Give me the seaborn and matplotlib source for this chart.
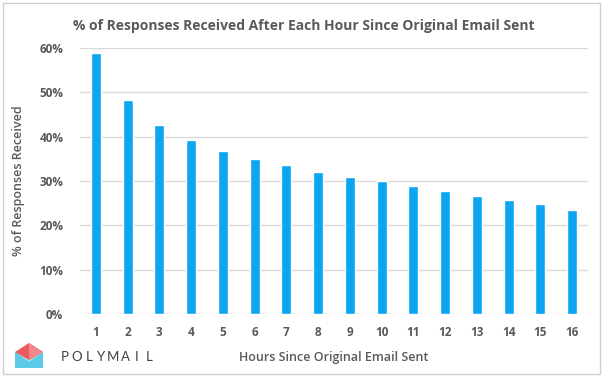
import matplotlib
matplotlib.use("Agg")
import matplotlib.pyplot as plt
from matplotlib.patches import Rectangle, Polygon
from matplotlib.ticker import PercentFormatter
import seaborn as sns
import pandas as pd

# data
hours = [str(h) for h in range(1, 17)]
responses = [58.9, 48.3, 42.7, 39.2, 36.8, 35.0, 33.5, 32.1,
             31.0, 30.0, 28.9, 27.8, 26.7, 25.7, 24.7, 23.5]
y_ticks = [0, 10, 20, 30, 40, 50, 60]

title = "% of Responses Received After Each Hour Since Original Email Sent"
x_label = "Hours Since Original Email Sent"
y_label = "% of Responses Received"

TEXT = "#595959"
BAR = "#0BA5F2"

sns.set_theme(style="white")
plt.rcParams["font.family"] = ["Open Sans", "DejaVu Sans"]

df = pd.DataFrame({"hour": hours, "pct": responses})

fig = plt.figure(figsize=(6.05, 3.8), dpi=100)
ax = fig.add_axes([80 / 605, 1 - 314 / 380, 508 / 605, 266 / 380])

sns.barplot(data=df, x="hour", y="pct", color=BAR, width=0.31,
            saturation=1, ax=ax, zorder=3)

ax.set_ylim(0, 60)
ax.set_xlim(-0.5, 15.5)
ax.set_yticks(y_ticks)
ax.yaxis.set_major_formatter(PercentFormatter(decimals=0))
ax.grid(axis="y", color="#d9d9d9", linewidth=1, zorder=0)
for s in ax.spines.values():
    s.set_visible(False)
ax.tick_params(axis="both", length=0, colors=TEXT, labelsize=8.5)
ax.tick_params(axis="y", pad=12)
ax.tick_params(axis="x", pad=9)
for lbl in ax.get_xticklabels() + ax.get_yticklabels():
    lbl.set_fontweight("bold")

ax.set_xlabel(x_label, color=TEXT, fontsize=9, fontweight="semibold", labelpad=8)
ax.set_ylabel(y_label, color=TEXT, fontsize=9, fontweight="semibold", labelpad=10)

fig.text(304 / 605, 1 - 26 / 380, title, ha="center", va="center",
         color=TEXT, fontsize=10, fontweight="bold")

# figure border
fig.patches.append(Rectangle((3 / 605, 6 / 380), 597 / 605, 371 / 380,
                             transform=fig.transFigure, fill=False,
                             edgecolor="#cfcfcf", linewidth=1))

# polymail logo
def px(x, y):
    return (x / 605, 1 - y / 380)

fig.patches.append(Polygon([px(15, 352), px(43, 352), px(43, 368), px(15, 368)],
                           closed=True, transform=fig.transFigure,
                           facecolor="#5cc9e6", edgecolor="none"))
fig.patches.append(Polygon([px(15, 352), px(29, 362), px(43, 352)],
                           closed=True, transform=fig.transFigure,
                           facecolor="#9fe3ee", edgecolor="none"))
fig.patches.append(Polygon([px(15, 352), px(29, 343), px(43, 352), px(29, 360)],
                           closed=True, transform=fig.transFigure,
                           facecolor="#ec5a5f", edgecolor="none"))
fig.patches.append(Polygon([px(29, 343), px(43, 352), px(29, 360)],
                           closed=True, transform=fig.transFigure,
                           facecolor="#f2878a", edgecolor="none"))

for i, ch in enumerate("POLYMAIL"):
    fig.text((65 + i * 12) / 605, 1 - 357 / 380, ch, ha="center", va="center",
             color="#3f3f3f", fontsize=9.5, family=["Lato", "DejaVu Sans"])

fig.savefig("out.png", dpi=100)
plt.close(fig)
